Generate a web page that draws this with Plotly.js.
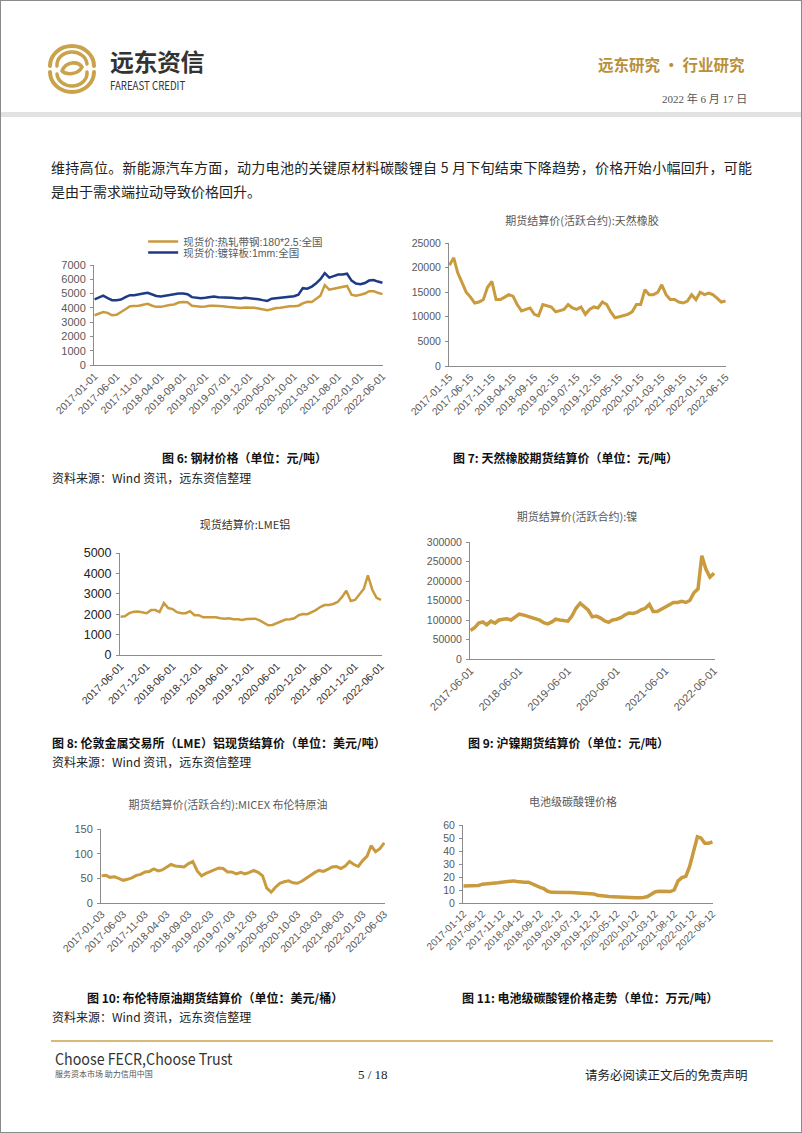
<!DOCTYPE html>
<html><head><meta charset="utf-8">
<script src="https://cdn.plot.ly/plotly-3.0.1.min.js"></script>
<style>
html,body{margin:0;padding:0;background:#fff;}
#page{position:relative;width:802px;height:1133px;overflow:hidden;background:#fff;font-family:"Noto Sans CJK SC","Liberation Sans",sans-serif;}
.t{position:absolute;white-space:nowrap;}
.cap{position:absolute;white-space:nowrap;font-weight:bold;font-size:12px;color:#111;line-height:16px;}
.src{position:absolute;white-space:nowrap;font-size:12px;color:#222;line-height:16px;left:52px;}
.ch{position:absolute;}
</style></head>
<body><div id="page">
<div style="position:absolute;left:0;top:0;width:800px;height:1131px;border:1px solid #8a8a8a;"></div>
<svg style="position:absolute;left:46px;top:44px" width="52" height="50" viewBox="0 0 52 50">
 <g fill="none" stroke="#c9a24a" stroke-linecap="round">
  <path d="M4 22 A22 20 0 0 1 48 22" stroke-width="4"/>
  <path d="M4 28 A22 20 0 0 0 48 28" stroke-width="4"/>
  <path d="M11 22 A15 13 0 0 1 41 20" stroke-width="3.5"/>
  <path d="M11 30 A15 13 0 0 0 41 28" stroke-width="3.5"/>
  <path d="M16 27 C20 17, 32 17, 36 23 C32 31, 20 31, 16 27" stroke-width="3.5"/>
 </g>
</svg>
<div class="t" style="left:110px;top:47px;font-size:24px;font-weight:bold;color:#333;line-height:28px;letter-spacing:-0.5px">远东资信</div>
<div class="t" style="left:110px;top:79px;font-size:11.5px;color:#333;line-height:12px;transform:scaleX(0.84);transform-origin:left center;">FAREAST CREDIT</div>
<div class="t" style="left:598px;top:54px;font-size:15.5px;font-weight:bold;color:#b8903a;line-height:20px;">远东研究 • 行业研究</div>
<div class="t" style="left:662px;top:92px;font-size:11px;color:#555;line-height:14px;font-family:'Liberation Serif','Noto Sans CJK SC',serif;">2022 年 6 月 17 日</div>
<div style="position:absolute;left:1px;top:112px;width:800px;height:5px;background:#e1e3e3;"></div>
<div class="t" style="left:51px;top:155px;width:701px;white-space:nowrap;font-size:14px;line-height:24px;color:#222;text-align:justify;text-align-last:justify;">维持高位。新能源汽车方面，动力电池的关键原材料碳酸锂自 5 月下旬结束下降趋势，价格开始小幅回升，可能</div>
<div class="t" style="left:51px;top:179px;font-size:14px;line-height:24px;color:#222;">是由于需求端拉动导致价格回升。</div>

<div id="c1" class="ch" style="left:40px;top:215px;width:360px;height:240px"></div>
<div id="c2" class="ch" style="left:400px;top:210px;width:380px;height:245px"></div>
<div class="cap" style="left:162px;top:450px">图 6: 钢材价格（单位：元/吨）</div>
<div class="cap" style="left:453px;top:450px">图 7: 天然橡胶期货结算价（单位：元/吨）</div>
<div class="src" style="top:470px">资料来源：Wind 资讯，远东资信整理</div>

<div id="c3" class="ch" style="left:40px;top:505px;width:360px;height:230px"></div>
<div id="c4" class="ch" style="left:400px;top:505px;width:380px;height:230px"></div>
<div class="cap" style="left:52px;top:735px">图 8: 伦敦金属交易所（LME）铝现货结算价（单位：美元/吨）</div>
<div class="cap" style="left:468px;top:735px">图 9: 沪镍期货结算价（单位：元/吨）</div>
<div class="src" style="top:754px">资料来源：Wind 资讯，远东资信整理</div>

<div id="c5" class="ch" style="left:40px;top:790px;width:360px;height:190px"></div>
<div id="c6" class="ch" style="left:400px;top:790px;width:380px;height:190px"></div>
<div class="cap" style="left:87px;top:990px">图 10: 布伦特原油期货结算价（单位：美元/桶）</div>
<div class="cap" style="left:462px;top:990px">图 11: 电池级碳酸锂价格走势（单位：万元/吨）</div>
<div class="src" style="top:1009px">资料来源：Wind 资讯，远东资信整理</div>

<div style="position:absolute;left:51px;top:1040px;width:722px;height:2px;background:#d9b878;"></div>
<div class="t" style="left:55px;top:1050px;font-size:16px;color:#333;line-height:16px;transform:scaleX(0.89);transform-origin:left center;">Choose FECR,Choose Trust</div>
<div class="t" style="left:55px;top:1069px;font-size:8px;color:#555;line-height:9px;">服务资本市场 助力信用中国</div>
<div class="t" style="left:358px;top:1067px;font-size:13px;color:#222;line-height:16px;font-family:'Liberation Serif',serif;">5 / 18</div>
<div class="t" style="left:585px;top:1067px;font-size:12.5px;color:#222;line-height:16px;">请务必阅读正文后的免责声明</div>
</div>
<script>
// ---------- data ----------
const months = ['2017-01','2017-02','2017-03','2017-04','2017-05','2017-06','2017-07','2017-08','2017-09','2017-10','2017-11','2017-12',
'2018-01','2018-02','2018-03','2018-04','2018-05','2018-06','2018-07','2018-08','2018-09','2018-10','2018-11','2018-12',
'2019-01','2019-02','2019-03','2019-04','2019-05','2019-06','2019-07','2019-08','2019-09','2019-10','2019-11','2019-12',
'2020-01','2020-02','2020-03','2020-04','2020-05','2020-06','2020-07','2020-08','2020-09','2020-10','2020-11','2020-12',
'2021-01','2021-02','2021-03','2021-04','2021-05','2021-06','2021-07','2021-08','2021-09','2021-10','2021-11','2021-12',
'2022-01','2022-02','2022-03','2022-04','2022-05','2022-06'];

// Fig 6 steel (元/吨)
const hrcValues = [3480,3590,3700,3650,3480,3520,3690,3900,4110,4110,4150,4220,
4280,4150,4070,4070,4150,4200,4240,4370,4410,4390,4150,4110,
4070,4090,4150,4150,4150,4110,4070,4030,4030,3990,4030,4030,
4010,3950,3900,3840,3900,3990,4010,4070,4110,4110,4150,4320,
4430,4410,4640,4850,5590,5270,5340,5420,5460,5530,4920,4850,
4920,5000,5170,5170,5060,4960];
const galvValues = [4600,4750,4850,4680,4540,4540,4580,4750,4890,4890,4920,5000,
5060,4960,4830,4790,4850,4890,4920,5000,5000,4960,4750,4700,
4680,4700,4750,4790,4750,4750,4700,4700,4680,4660,4700,4680,
4660,4600,4540,4490,4640,4680,4700,4750,4790,4810,4920,5380,
5340,5490,5700,6010,6430,6120,6220,6330,6330,6390,5910,5700,
5650,5740,5910,5950,5840,5760];
const steelTicks = ['2017-01-01','2017-06-01','2017-11-01','2018-04-01','2018-09-01','2019-02-01','2019-07-01','2019-12-01','2020-05-01','2020-10-01','2021-03-01','2021-08-01','2022-01-01','2022-06-01'];

// Fig 7 natural rubber (元/吨)
const rubberValues = [20500,22000,19000,17000,15000,14000,12800,13000,13500,16000,17200,13500,
13500,14000,14500,14200,12500,11200,11500,11800,10500,10200,12500,12200,
12000,11000,11200,11500,12500,11800,11500,12000,10500,11500,12000,11800,
13000,12500,11000,9800,10000,10300,10500,11000,12500,12500,15500,14500,
14500,15000,16500,14500,13500,13500,13000,12800,13200,14500,13500,15000,
14500,14800,14500,13800,13000,13200];
const rubberTicks = ['2017-01-15','2017-06-15','2017-11-15','2018-04-15','2018-09-15','2019-02-15','2019-07-15','2019-12-15','2020-05-15','2020-10-15','2021-03-15','2021-08-15','2022-01-15','2022-06-15'];

// Fig 8 LME aluminium (美元/吨), from 2017-06
const alumValues = [1880,1900,2050,2120,2130,2100,2050,
2200,2200,2100,2550,2300,2250,2100,2050,2050,2150,1950,1950,
1850,1850,1880,1850,1800,1780,1800,1750,1750,1720,1760,1770,
1780,1700,1600,1460,1470,1560,1650,1740,1750,1800,1950,2010,
2000,2100,2200,2350,2450,2450,2500,2600,2850,3150,2650,2700,
3000,3250,3900,3200,2800,2700];
const alumTicks = ['2017-06-01','2017-12-01','2018-06-01','2018-12-01','2019-06-01','2019-12-01','2020-06-01','2020-12-01','2021-06-01','2021-12-01','2022-06-01'];

// Fig 9 SHFE nickel (元/吨), from 2017-06
const nickelValues = [73000,80000,92000,95000,88000,97000,92000,
100000,102000,103000,100000,108000,115000,113000,110000,108000,105000,100000,93000,
90000,95000,102000,100000,98000,97000,110000,130000,143000,135000,125000,108000,
110000,105000,98000,94000,100000,102000,106000,113000,118000,117000,120000,126000,
130000,140000,122000,122000,128000,132000,140000,145000,145000,148000,145000,150000,
170000,180000,265000,230000,210000,220000];
const nickelTicks = ['2017-06-01','2018-06-01','2019-06-01','2020-06-01','2021-06-01','2022-06-01'];

// Fig 10 Brent (美元/桶)
const brentValues = [55,56,52,53,50,46,48,51,56,58,63,64,
69,65,67,72,78,75,74,73,80,84,65,55,
60,64,67,71,70,63,63,59,62,59,62,66,
62,55,30,22,32,40,43,45,41,40,44,50,
55,62,66,64,68,73,74,70,75,84,78,74,
86,95,116,104,110,122];
const brentTicks = ['2017-01-03','2017-06-03','2017-11-03','2018-04-03','2018-09-03','2019-02-03','2019-07-03','2019-12-03','2020-05-03','2020-10-03','2021-03-03','2021-08-03','2022-01-03','2022-06-03'];

// Fig 11 battery-grade lithium carbonate (万元/吨)
const lithiumValues = [13,13,13.2,13.3,13.5,14.5,14.6,14.8,15.2,15.5,16,16.5,
17,17,16.5,16,16,16,14.5,13.5,12,11,9,8.2,
8,8,8,8,8,7.9,7.8,7.7,7.5,7.3,7,6,
5.5,5,5,4.8,4.6,4.5,4.3,4.2,4,4,4.1,4.2,
5,6.5,8.5,9,9,8.8,8.8,10,17,19.5,20.5,28,
40,51,50,46,46,47];
const lithiumTicks = ['2017-01-12','2017-06-12','2017-11-12','2018-04-12','2018-09-12','2019-02-12','2019-07-12','2019-12-12','2020-05-12','2020-10-12','2021-03-12','2021-08-12','2022-01-12','2022-06-12'];

// ---------- drawing ----------
const GOLD = '#c99a3e', NAVY = '#1d3a86';
const FONT = 'Liberation Sans, Noto Sans CJK SC, sans-serif';
const cfg = {staticPlot:true, displayModeBar:false};

function baseLayout(o){
  return {
    width:o.w, height:o.h,
    margin:{l:o.l, r:o.r, t:o.t, b:o.b, pad:0},
    paper_bgcolor:'rgba(0,0,0,0)', plot_bgcolor:'rgba(0,0,0,0)',
    font:{family:FONT, color:'#595959', size:10},
    showlegend:false,
    title: o.title ? {text:o.title, x:o.tx, xref:'paper', xanchor:'center', y:o.ty, yref:'container', yanchor:'middle',
      font:{family:'Noto Sans CJK SC, Liberation Sans, sans-serif', size:11, color:o.tcolor||'#595959'}} : undefined,
    xaxis:{type:'date', range:o.xr, tickvals:o.ticks, ticktext:o.ticks, tickangle:-45,
      tickfont:{size:o.xfs||10.5, color:o.xcol||'#595959'}, showline:true, linecolor:'#8c8c8c', linewidth:1,
      ticks:'', showgrid:false, zeroline:false},
    yaxis:{range:o.yr, dtick:o.dt, tickformat:'d', tickfont:{size:o.yfs||10.5, color:o.ycol||'#595959'}, showline:true, linecolor:'#8c8c8c', linewidth:1,
      ticks:'outside', ticklen:3, tickcolor:'#8c8c8c', showgrid:false, zeroline:false, ticklabelstandoff:2},
  };
}
const d = (arr, day) => arr.map(m => m + '-' + day);

// Fig 6
(function(){
  const x = d(months,'01');
  const L = baseLayout({w:360,h:240,l:54,r:17,t:39,b:90,xr:['2016-12-28','2022-06-05'],ticks:steelTicks,yr:[0,7000],dt:1000,yfs:11});
  L.showlegend = true;
  L.legend = {x:0.17, y:1.235, xanchor:'left', yanchor:'middle', bgcolor:'rgba(0,0,0,0)', font:{size:10.5, color:'#595959', family:FONT}};
  L.legend2 = {x:0.17, y:1.125, xanchor:'left', yanchor:'middle', bgcolor:'rgba(0,0,0,0)', font:{size:10.5, color:'#595959', family:FONT}};
  Plotly.newPlot('c1', [
    {x:x, y:hrcValues, type:'scatter', mode:'lines', name:'现货价:热轧带钢:180*2.5:全国', line:{color:GOLD, width:2.5}, legend:'legend'},
    {x:x, y:galvValues, type:'scatter', mode:'lines', name:'现货价:镀锌板:1mm:全国', line:{color:NAVY, width:2.5}, legend:'legend2'}
  ], L, cfg);
})();
// Fig 7
(function(){
  const L = baseLayout({w:380,h:245,l:49,r:54,t:33,b:89,xr:['2017-01-12','2022-06-18'],ticks:rubberTicks,yr:[0,25000],dt:5000,
    title:'期货结算价(活跃合约):天然橡胶', tx:0.48, ty:0.955});
  Plotly.newPlot('c2', [{x:d(months,'15'), y:rubberValues, type:'scatter', mode:'lines', line:{color:GOLD, width:3}}], L, cfg);
})();
// Fig 8
(function(){
  const L = baseLayout({w:360,h:230,l:80,r:18,t:48,b:80,xr:['2017-05-28','2022-06-08'],ticks:alumTicks,yr:[0,5000],dt:1000,
    title:'现货结算价:LME铝', tx:0.477, ty:0.913, tcolor:'#333', yfs:12.5, ycol:'#222', xfs:10.5, xcol:'#333'});
  Plotly.newPlot('c3', [{x:d(months.slice(5),'01'), y:alumValues, type:'scatter', mode:'lines', line:{color:GOLD, width:2.5}}], L, cfg);
})();
// Fig 9
(function(){
  const L = baseLayout({w:380,h:230,l:70,r:65,t:37,b:76,xr:['2017-05-28','2022-06-08'],ticks:nickelTicks,yr:[0,300000],dt:50000,
    title:'期货结算价(活跃合约):镍', tx:0.437, ty:0.948, xfs:11});
  Plotly.newPlot('c4', [{x:d(months.slice(5),'01'), y:nickelValues, type:'scatter', mode:'lines', line:{color:GOLD, width:3.5}}], L, cfg);
})();
// Fig 10
(function(){
  const L = baseLayout({w:360,h:190,l:61,r:15,t:39,b:77,xr:['2016-12-30','2022-06-08'],ticks:brentTicks,yr:[0,150],dt:50,
    title:'期货结算价(活跃合约):MICEX 布伦特原油', tx:0.447, ty:0.921, yfs:11});
  Plotly.newPlot('c5', [{x:d(months,'03'), y:brentValues, type:'scatter', mode:'lines', line:{color:GOLD, width:3}}], L, cfg);
})();
// Fig 11
(function(){
  const L = baseLayout({w:380,h:190,l:63,r:67,t:35,b:77,xr:['2017-01-08','2022-06-16'],ticks:lithiumTicks,yr:[0,60],dt:10,
    title:'电池级碳酸锂价格', tx:0.44, ty:0.937, xfs:10});
  Plotly.newPlot('c6', [{x:d(months,'12'), y:lithiumValues, type:'scatter', mode:'lines', line:{color:GOLD, width:3.5}}], L, cfg);
})();
</script>
</body></html>
